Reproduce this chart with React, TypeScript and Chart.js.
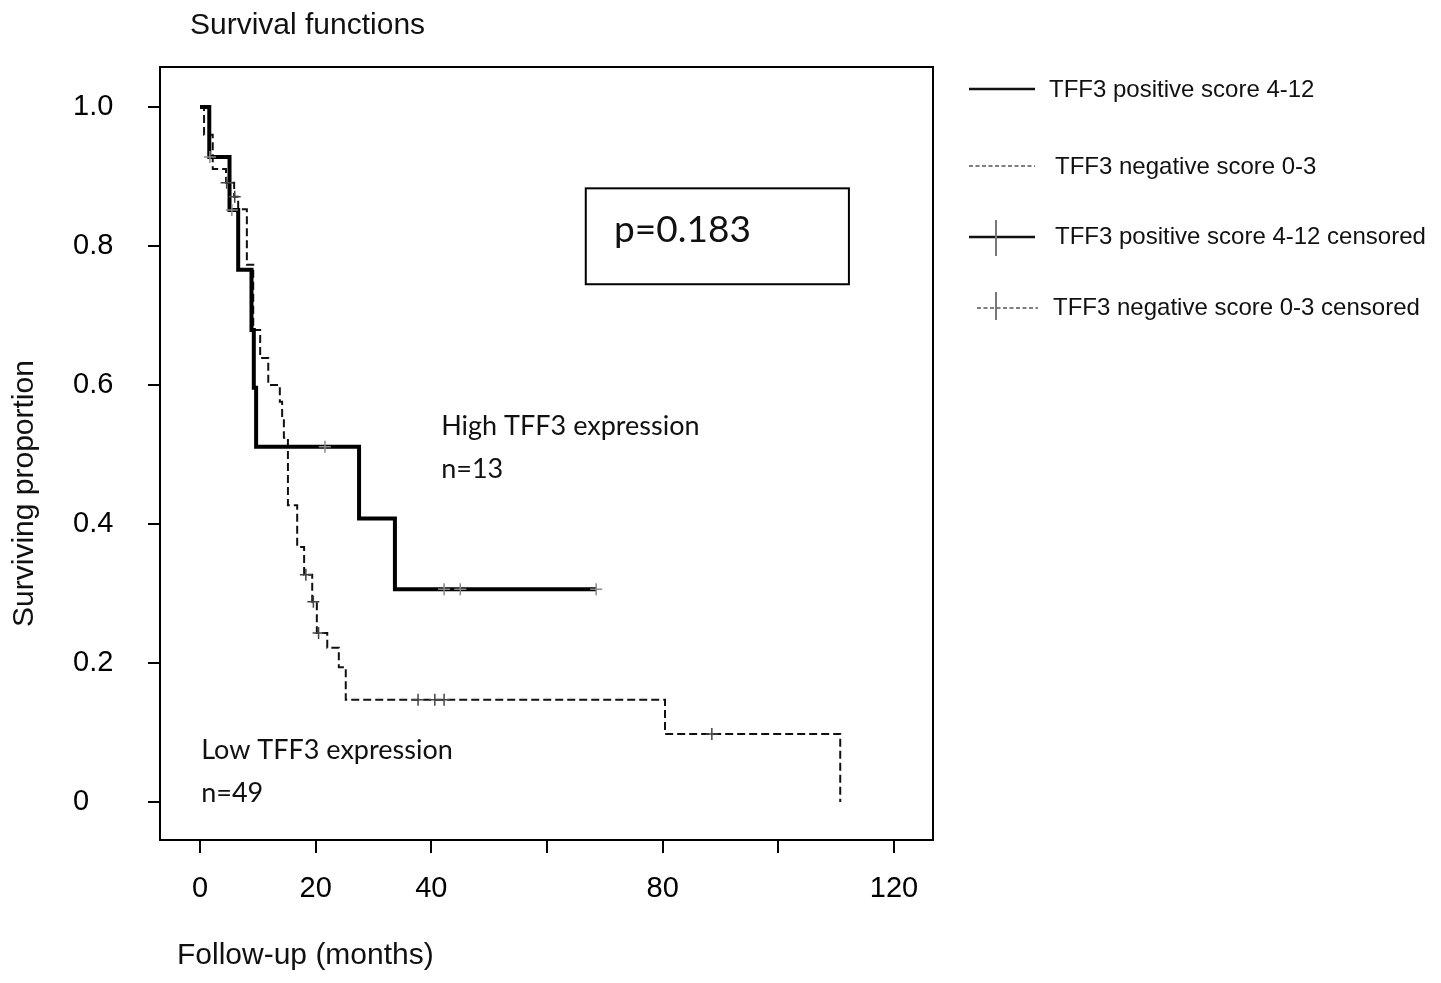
import React, { useEffect, useRef } from "react";
import { Chart, registerables } from "chart.js";

Chart.register(...registerables);

// ---- Data ----
const HIGH_EVENT_TIMES = [1.6, 5.1, 6.6, 8.9, 9.3, 9.7, 27.5, 33.7];
const HIGH_SURVIVAL = [0.928, 0.852, 0.766, 0.679, 0.596, 0.511, 0.408, 0.306];
const HIGH_END_TIME = 68.5;
const HIGH_CENSOR_TIMES = [1.7, 5.5, 21.6, 42.2, 45.0, 68.5];
const HIGH_CENSOR_SURV = [0.928, 0.852, 0.511, 0.306, 0.306, 0.306];

const LOW_EVENT_TIMES = [0.7, 2.2, 4.5, 5.9, 6.6, 8.1, 9.2, 10.4, 11.8, 13.8, 14.2, 14.5, 15.2, 16.8, 18.0, 19.4, 20.2, 22.0, 24.0, 25.2, 80.4, 110.7];
const LOW_SURVIVAL = [0.96, 0.911, 0.891, 0.871, 0.853, 0.773, 0.679, 0.639, 0.6, 0.576, 0.554, 0.524, 0.427, 0.367, 0.327, 0.288, 0.243, 0.222, 0.194, 0.147, 0.098, 0.0];
const LOW_CENSOR_TIMES = [4.6, 6.0, 18.3, 19.6, 20.5, 37.7, 40.6, 42.2, 88.5];
const LOW_CENSOR_SURV = [0.891, 0.871, 0.327, 0.288, 0.243, 0.147, 0.147, 0.147, 0.098];

const X_TICKS = [0, 20, 40, 60, 80, 100, 120];
const X_TICK_LABELS = ["0", "20", "40", "", "80", "", "120"];
const Y_TICKS = [0, 0.2, 0.4, 0.6, 0.8, 1.0];
const Y_TICK_LABELS = ["0", "0.2", "0.4", "0.6", "0.8", "1.0"];

const LEGEND_LABELS = [
  "TFF3 positive score 4-12",
  "TFF3 negative score 0-3",
  "TFF3 positive score 4-12 censored",
  "TFF3 negative score 0-3 censored",
];
const TITLE = "Survival functions";
const X_TITLE = "Follow-up (months)";
const Y_TITLE = "Surviving proportion";
const HIGH_LABEL = ["High TFF3 expression", "n=13"];
const LOW_LABEL = ["Low TFF3 expression", "n=49"];
const P_TEXT = "p=0.183";

// ---- helpers ----
const ARIAL = '"Liberation Sans", Arial, Helvetica, sans-serif';
const CALIBRI = 'Lato, "Open Sans", sans-serif';

function stepData(times: number[], surv: number[], end?: number) {
  const pts = [{ x: 0, y: 1 }, ...times.map((t, i) => ({ x: t, y: surv[i] }))];
  if (end !== undefined) pts.push({ x: end, y: surv[surv.length - 1] });
  return pts;
}
function pointData(times: number[], surv: number[]) {
  return times.map((t, i) => ({ x: t, y: surv[i] }));
}

const decorPlugin = {
  id: "decor",
  afterDraw(chart: any) {
    const { ctx, chartArea: a, scales } = chart;
    const xs = scales.x;
    const ys = scales.y;
    ctx.save();
    // frame
    ctx.strokeStyle = "#000";
    ctx.lineWidth = 2;
    ctx.setLineDash([]);
    ctx.strokeRect(a.left, a.top, a.right - a.left, a.bottom - a.top);

    // titles
    ctx.fillStyle = "#111";
    ctx.textBaseline = "middle";
    ctx.textAlign = "left";
    ctx.font = `30px ${ARIAL}`;
    ctx.fillText(TITLE, a.left + 30, a.top - 41);
    ctx.fillText(X_TITLE, a.left + 17, a.bottom + 116);
    ctx.save();
    ctx.translate(25, (a.top + a.bottom) / 2 + 40);
    ctx.rotate(-Math.PI / 2);
    ctx.textAlign = "center";
    ctx.fillText(Y_TITLE, 0, 0);
    ctx.restore();

    // annotations
    ctx.font = `27px ${CALIBRI}`;
    ctx.textAlign = "left";
    ctx.fillText(HIGH_LABEL[0], xs.getPixelForValue(41.7), ys.getPixelForValue(0.54));
    ctx.fillText(HIGH_LABEL[1], xs.getPixelForValue(41.7), ys.getPixelForValue(0.479));
    ctx.fillText(LOW_LABEL[0], xs.getPixelForValue(0.2), ys.getPixelForValue(0.075));
    ctx.fillText(LOW_LABEL[1], xs.getPixelForValue(0.2), ys.getPixelForValue(0.013));

    // p-value box
    const bx0 = xs.getPixelForValue(66.7);
    const bx1 = xs.getPixelForValue(112.2);
    const by0 = ys.getPixelForValue(0.883);
    const by1 = ys.getPixelForValue(0.745);
    ctx.lineWidth = 2;
    ctx.strokeRect(bx0, by0, bx1 - bx0, by1 - by0);
    ctx.font = `37px ${CALIBRI}`;
    ctx.fillText(P_TEXT, xs.getPixelForValue(71.6), ys.getPixelForValue(0.823));

    // legend
    const lx = a.right;
    const ly = a.top;
    ctx.font = `24px ${ARIAL}`;
    ctx.fillStyle = "#111";
    // item 1
    ctx.strokeStyle = "#111";
    ctx.lineWidth = 2.5;
    ctx.beginPath();
    ctx.moveTo(lx + 36, ly + 22);
    ctx.lineTo(lx + 102, ly + 22);
    ctx.stroke();
    ctx.fillText(LEGEND_LABELS[0], lx + 116, ly + 23);
    // item 2
    ctx.strokeStyle = "#555";
    ctx.lineWidth = 1.5;
    ctx.setLineDash([4, 2.5]);
    ctx.beginPath();
    ctx.moveTo(lx + 36, ly + 99);
    ctx.lineTo(lx + 102, ly + 99);
    ctx.stroke();
    ctx.setLineDash([]);
    ctx.fillText(LEGEND_LABELS[1], lx + 122, ly + 100);
    // item 3
    ctx.strokeStyle = "#111";
    ctx.lineWidth = 2.5;
    ctx.beginPath();
    ctx.moveTo(lx + 36, ly + 170);
    ctx.lineTo(lx + 102, ly + 170);
    ctx.stroke();
    ctx.strokeStyle = "#777";
    ctx.lineWidth = 2;
    ctx.beginPath();
    ctx.moveTo(lx + 63, ly + 153);
    ctx.lineTo(lx + 63, ly + 189);
    ctx.stroke();
    ctx.fillText(LEGEND_LABELS[2], lx + 122, ly + 170);
    // item 4
    ctx.strokeStyle = "#555";
    ctx.lineWidth = 1.5;
    ctx.setLineDash([4, 2.5]);
    ctx.beginPath();
    ctx.moveTo(lx + 44, ly + 241);
    ctx.lineTo(lx + 105, ly + 241);
    ctx.stroke();
    ctx.setLineDash([]);
    ctx.strokeStyle = "#777";
    ctx.lineWidth = 2;
    ctx.beginPath();
    ctx.moveTo(lx + 63, ly + 225);
    ctx.lineTo(lx + 63, ly + 253);
    ctx.stroke();
    ctx.fillText(LEGEND_LABELS[3], lx + 120, ly + 241);

    ctx.restore();
  },
};

export default function App() {
  const ref = useRef<HTMLCanvasElement>(null);
  useEffect(() => {
    const canvas = ref.current!;
    const chart = new Chart(canvas, {
      type: "line",
      data: {
        datasets: [
          {
            label: LEGEND_LABELS[2],
            data: pointData(HIGH_CENSOR_TIMES, HIGH_CENSOR_SURV),
            showLine: false,
            pointStyle: "cross",
            pointRadius: 6,
            pointBorderWidth: 1.5,
            pointBorderColor: "#8a8a8a",
            borderColor: "#8a8a8a",
            order: 0,
          },
          {
            label: LEGEND_LABELS[3],
            data: pointData(LOW_CENSOR_TIMES, LOW_CENSOR_SURV),
            showLine: false,
            pointStyle: "cross",
            pointRadius: 6,
            pointBorderWidth: 1.5,
            pointBorderColor: "#444",
            borderColor: "#444",
            order: 0,
          },
          {
            label: LEGEND_LABELS[0],
            data: stepData(HIGH_EVENT_TIMES, HIGH_SURVIVAL, HIGH_END_TIME),
            stepped: "before",
            borderColor: "#000",
            borderWidth: 4,
            pointRadius: 0,
            fill: false,
            order: 1,
          },
          {
            label: LEGEND_LABELS[1],
            data: stepData(LOW_EVENT_TIMES, LOW_SURVIVAL),
            stepped: "before",
            borderColor: "#111",
            borderWidth: 2,
            borderDash: [8, 4],
            pointRadius: 0,
            fill: false,
            order: 2,
          },
        ],
      },
      options: {
        animation: false,
        responsive: true,
        maintainAspectRatio: false,
        layout: { padding: { left: 73, top: 67, right: 508, bottom: 0 } },
        plugins: {
          legend: { display: false },
          tooltip: { enabled: false },
          title: { display: false },
        },
        scales: {
          x: {
            type: "linear",
            min: -6.92,
            max: 126.74,
            afterFit: (s: any) => {
              s.height = 143;
            },
            afterBuildTicks: (s: any) => {
              s.ticks = X_TICKS.map((v) => ({ value: v }));
            },
            ticks: {
              autoSkip: false,
              maxRotation: 0,
              padding: 19,
              color: "#000",
              font: { family: ARIAL, size: 29 },
              callback: (v: any) => {
                const i = X_TICKS.indexOf(Number(v));
                return i >= 0 ? X_TICK_LABELS[i] : "";
              },
            },
            grid: {
              drawOnChartArea: false,
              drawTicks: true,
              tickLength: 13,
              color: "#000",
              lineWidth: 2,
            },
            border: { display: true, color: "#000", width: 2 },
          },
          y: {
            type: "linear",
            min: -0.0547,
            max: 1.0576,
            afterFit: (s: any) => {
              s.width = 87;
            },
            afterBuildTicks: (s: any) => {
              s.ticks = Y_TICKS.map((v) => ({ value: v }));
            },
            ticks: {
              autoSkip: false,
              crossAlign: "far",
              color: "#000",
              font: { family: ARIAL, size: 29 },
              callback: (v: any) => {
                const i = Y_TICKS.findIndex((t) => Math.abs(t - Number(v)) < 1e-6);
                return i >= 0 ? Y_TICK_LABELS[i] : "";
              },
            },
            grid: {
              drawOnChartArea: false,
              drawTicks: true,
              tickLength: 12,
              color: "#000",
              lineWidth: 2,
            },
            border: { display: true, color: "#000", width: 2 },
          },
        },
      },
      plugins: [decorPlugin],
    } as any);
    return () => chart.destroy();
  }, []);

  return (
    <div
      style={{
        position: "fixed",
        left: 0,
        top: 0,
        width: 1441,
        height: 983,
        background: "#fff",
      }}
    >
      <canvas ref={ref} />
    </div>
  );
}
